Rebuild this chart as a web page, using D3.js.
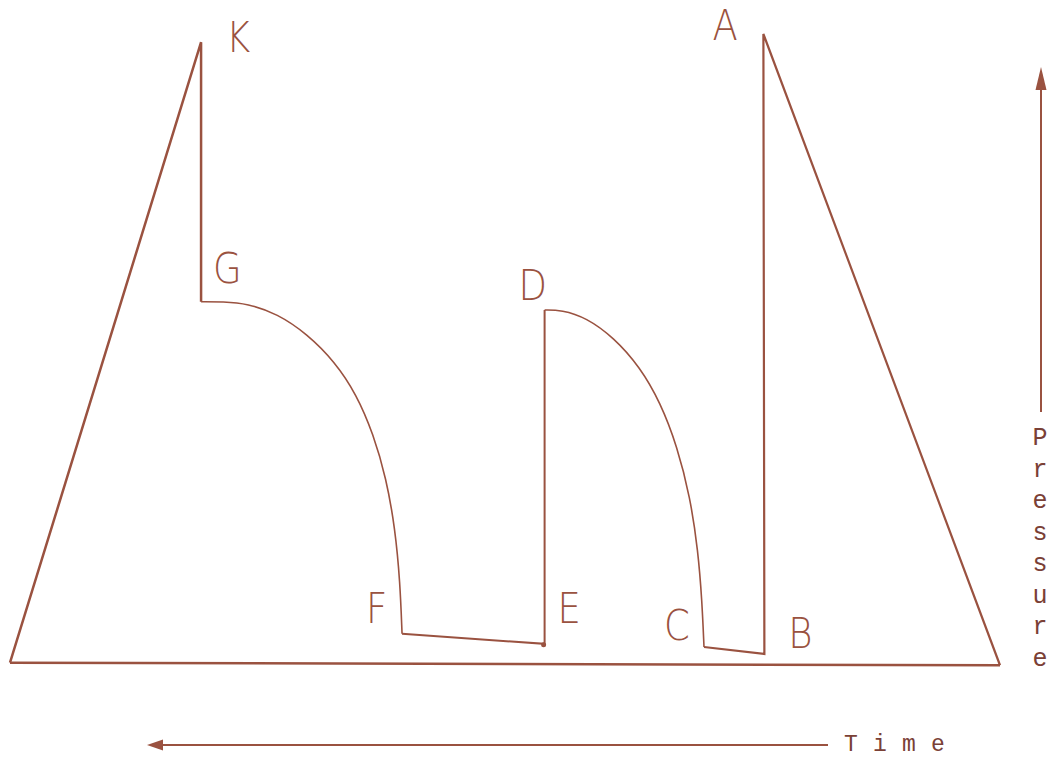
<!DOCTYPE html>
<html>
<head>
<meta charset="utf-8">
<script src="https://cdn.jsdelivr.net/npm/d3@7/dist/d3.min.js"></script>
<style>
  html, body { margin: 0; padding: 0; background: #fff; }
  svg { display: block; }
</style>
</head>
<body>
<svg id="chart"></svg>
<script>
// pressure / time trace, time runs right to left
var width = 1048, height = 757
var ink = "#9a5240"
var textInk = "#7a4036"

// [time, pressure] in arbitrary units (0..100)
var riseToK = [[100, 0.2], [80.7, 98.7], [80.7, 57.5]]
var decayGF = [[80.7, 57.5], [78.5, 57.5], [76.0, 57.2], [73.0, 55.6], [70.0, 52.4], [67.2, 48.0],
               [65.0, 42.8], [63.3, 36.5], [62.0, 29.5], [61.1, 21.5], [60.6, 13.0], [60.4, 4.8]]
var dwellFED = [[60.4, 4.8], [46.0, 3.2], [46.0, 56.2]]
var decayDC = [[46.0, 56.2], [44.3, 56.2], [41.8, 55.0], [39.0, 51.8], [36.4, 47.2], [34.3, 41.5],
               [32.6, 34.5], [31.3, 26.5], [30.5, 18.0], [30.1, 10.0], [29.9, 2.7]]
var dwellCBA = [[29.9, 2.7], [23.8, 1.6], [23.9, 100], [0, -0.2]]
var baseLine = [[100, 0.2], [0, -0.2]]

var pointNames = ["K", "G", "F", "E", "D", "C", "B", "A"]
var pointTimes = [80.7, 80.7, 60.4, 46.0, 46.0, 29.9, 23.8, 23.9]
var pointPressures = [98.7, 57.5, 4.8, 3.2, 56.2, 2.7, 1.6, 100]

var axisLetters = "Pressure".split("")
var timeLetters = "Time".split("")

var x = d3.scaleLinear().domain([0, 100]).range([1000, 10])
var y = d3.scaleLinear().domain([0, 100]).range([664, 34])

var svg = d3.select("#chart").attr("width", width).attr("height", height)

var line = d3.line().x(function(d) { return x(d[0]) }).y(function(d) { return y(d[1]) })
var curve = d3.line().x(function(d) { return x(d[0]) }).y(function(d) { return y(d[1]) })
    .curve(d3.curveBasis)

var g = svg.append("g")
    .attr("fill", "none")
    .attr("stroke", ink)
    .attr("stroke-linejoin", "miter")

g.append("path").attr("d", line(baseLine)).attr("stroke-width", 2.5)
g.append("path").attr("d", line(riseToK)).attr("stroke-width", 2.5)
g.append("path").attr("d", curve(decayGF)).attr("stroke-width", 1.6)
g.append("path").attr("d", line(dwellFED)).attr("stroke-width", 2)
g.append("path").attr("d", curve(decayDC)).attr("stroke-width", 1.6)
g.append("path").attr("d", line(dwellCBA)).attr("stroke-width", 2.2)

// little dot at E
svg.append("circle")
    .attr("cx", x(pointTimes[3]) - 1).attr("cy", y(pointPressures[3]) + 1)
    .attr("r", 2.5).attr("fill", ink)

// label offsets from their points
var offsets = {
    K: [25, 10], G: [12, -19], F: [-36, -11], E: [13, -21],
    D: [-26, -10], C: [-40, -7], B: [24, -6], A: [-51, 6]
}

svg.append("g").selectAll("text")
    .data(pointNames)
    .enter().append("text")
    .attr("x", function(d, i) { return x(pointTimes[i]) + offsets[d][0] })
    .attr("y", function(d, i) { return y(pointPressures[i]) + offsets[d][1] })
    .attr("transform", function(d, i) {
        var px = x(pointTimes[i]) + offsets[d][0]
        return "translate(" + px + ",0) scale(0.88,1) translate(" + (-px) + ",0)"
    })
    .attr("font-family", "DejaVu Sans, sans-serif")
    .attr("font-weight", 200)
    .attr("font-size", 42)
    .attr("fill", ink)
    .text(function(d) { return d })

// pressure arrow
var ax = 1041
svg.append("line")
    .attr("x1", ax).attr("x2", ax).attr("y1", 412).attr("y2", 85)
    .attr("stroke", ink).attr("stroke-width", 2)
svg.append("path")
    .attr("d", "M" + ax + ",67 L" + (ax - 5.5) + ",90 L" + (ax + 5.5) + ",90 Z")
    .attr("fill", ink)

svg.append("g").selectAll("text")
    .data(axisLetters)
    .enter().append("text")
    .attr("x", 1040)
    .attr("y", function(d, i) { return 445 + i * 31.5 })
    .attr("text-anchor", "middle")
    .attr("font-family", "Liberation Mono, monospace")
    .attr("font-size", 25)
    .attr("fill", textInk)
    .text(function(d) { return d })

// time arrow
svg.append("line")
    .attr("x1", 828).attr("x2", 158).attr("y1", 745).attr("y2", 745)
    .attr("stroke", ink).attr("stroke-width", 2.2)
svg.append("path")
    .attr("d", "M147,745 L163,739.5 L163,750.5 Z")
    .attr("fill", ink)

svg.append("g").selectAll("text")
    .data(timeLetters)
    .enter().append("text")
    .attr("x", function(d, i) { return 851 + i * 29 })
    .attr("y", 751)
    .attr("text-anchor", "middle")
    .attr("font-family", "Liberation Mono, monospace")
    .attr("font-size", 23)
    .attr("fill", textInk)
    .text(function(d) { return d })
</script>
</body>
</html>
